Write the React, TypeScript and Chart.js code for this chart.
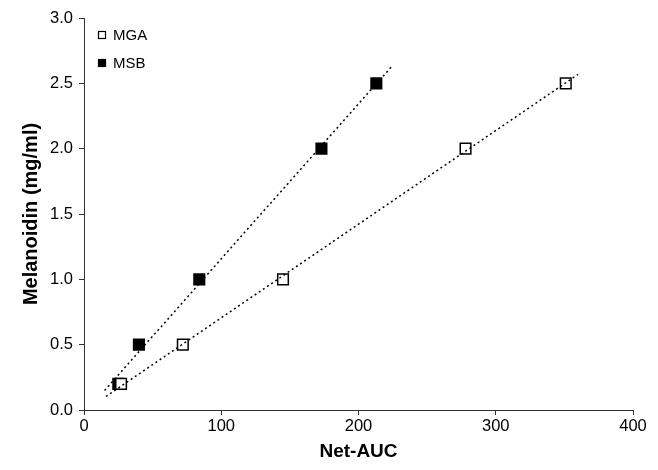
import React, { useEffect, useRef } from "react";
import { Chart, registerables } from "chart.js";

Chart.register(...registerables);

const seriesNames = ["MGA", "MSB"];
const mgaX = [27, 72, 145, 278, 351];
const mgaY = [0.2, 0.5, 1.0, 2.0, 2.5];
const msbX = [25, 40, 84, 173, 213];
const msbY = [0.2, 0.5, 1.0, 2.0, 2.5];
// trendline x-extent [start, end] for MGA and MSB
const mgaTrendRange = [16, 360];
const msbTrendRange = [15, 224];

function fit(xs: number[], ys: number[]) {
  const n = xs.length;
  const mx = xs.reduce((a, b) => a + b, 0) / n;
  const my = ys.reduce((a, b) => a + b, 0) / n;
  let sxy = 0, sxx = 0;
  for (let i = 0; i < n; i++) {
    sxy += (xs[i] - mx) * (ys[i] - my);
    sxx += (xs[i] - mx) * (xs[i] - mx);
  }
  const m = sxy / sxx;
  return { m, b: my - m * mx };
}

function trend(xs: number[], ys: number[], range: number[]) {
  const { m, b } = fit(xs, ys);
  return range.map((x) => ({ x, y: m * x + b }));
}

const FONT = "'Liberation Sans', Arial, sans-serif";

const legendPlugin = {
  id: "insideLegend",
  afterDraw(chart: any) {
    const ctx = chart.ctx;
    const items = [
      { label: seriesNames[0], fill: "#ffffff" },
      { label: seriesNames[1], fill: "#000000" },
    ];
    ctx.save();
    ctx.font = `15px ${FONT}`;
    ctx.textBaseline = "middle";
    items.forEach((it, i) => {
      const cy = 35 + i * 28;
      const cx = 102;
      ctx.fillStyle = it.fill;
      ctx.strokeStyle = "#000";
      ctx.lineWidth = 1.2;
      ctx.fillRect(cx - 3.5, cy - 3.5, 7, 7);
      ctx.strokeRect(cx - 3.5, cy - 3.5, 7, 7);
      ctx.fillStyle = "#000";
      ctx.fillText(it.label, 113, cy + 1);
    });
    ctx.restore();
  },
};

export default function App() {
  const ref = useRef<HTMLCanvasElement>(null);
  useEffect(() => {
    document.body.style.margin = "0";
    const mgaPts = mgaX.map((x, i) => ({ x, y: mgaY[i] }));
    const msbPts = msbX.map((x, i) => ({ x, y: msbY[i] }));
    const chart = new Chart(ref.current!, {
      type: "scatter",
      data: {
        datasets: [
          {
            type: "line",
            label: "MSB trend",
            data: trend(msbX, msbY, msbTrendRange),
            borderColor: "#000",
            borderWidth: 1.5,
            borderDash: [2, 3],
            pointRadius: 0,
            showLine: true,
            fill: false,
          },
          {
            type: "line",
            label: "MGA trend",
            data: trend(mgaX, mgaY, mgaTrendRange),
            borderColor: "#000",
            borderWidth: 1.5,
            borderDash: [2, 3],
            pointRadius: 0,
            showLine: true,
            fill: false,
          },
          {
            label: seriesNames[0],
            data: mgaPts,
            pointStyle: "rect",
            pointRadius: 7.5,
            pointBackgroundColor: "#fff",
            pointBorderColor: "#000",
            pointBorderWidth: 1.5,
          },
          {
            label: seriesNames[1],
            data: msbPts,
            pointStyle: "rect",
            pointRadius: 7.5,
            pointBackgroundColor: "#000",
            pointBorderColor: "#000",
            pointBorderWidth: 1.5,
          },
        ],
      },
      options: {
        responsive: false,
        animation: false,
        layout: { padding: { top: 18, right: 25, left: 0, bottom: 0 } },
        plugins: {
          legend: { display: false },
          tooltip: { enabled: false },
        },
        scales: {
          x: {
            type: "linear",
            min: 0,
            max: 400,
            ticks: { stepSize: 100, color: "#000", font: { family: FONT, size: 16.5 }, padding: 2 },
            grid: { drawOnChartArea: false, drawTicks: true, tickLength: 5, color: "#333" },
            border: { display: true, color: "#333", width: 1 },
            title: {
              display: true,
              text: "Net-AUC",
              color: "#000",
              font: { family: FONT, size: 19, weight: "bold" },
              padding: { top: 0, bottom: 7 },
            },
            afterFit: (s: any) => { s.height = 60; },
          },
          y: {
            type: "linear",
            min: 0,
            max: 3,
            ticks: {
              stepSize: 0.5,
              color: "#000",
              font: { family: FONT, size: 16.5 },
              padding: 6,
              callback: (v: any) => Number(v).toFixed(1),
            },
            grid: { drawOnChartArea: false, drawTicks: true, tickLength: 5, color: "#333" },
            border: { display: true, color: "#333", width: 1 },
            title: {
              display: true,
              text: "Melanoidin (mg/ml)",
              color: "#000",
              font: { family: FONT, size: 20, weight: "bold" },
              padding: { top: 19, bottom: 0 },
            },
            afterFit: (s: any) => { s.width = 84; },
          },
        },
      },
      plugins: [legendPlugin],
    } as any);
    return () => chart.destroy();
  }, []);
  return (
    <div style={{ position: "fixed", left: 0, top: 0, width: 658, height: 470, background: "#fff" }}>
      <canvas ref={ref} width={658} height={470} />
    </div>
  );
}
